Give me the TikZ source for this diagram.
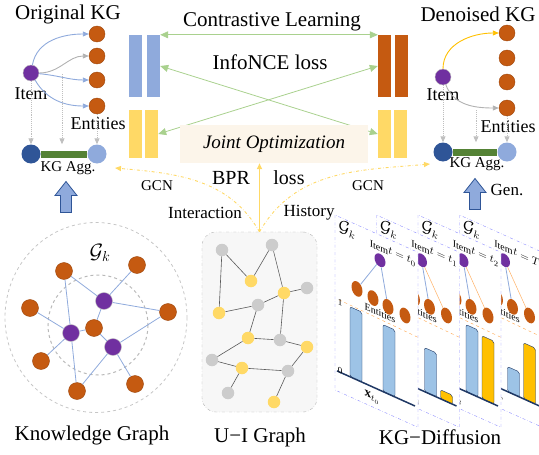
\documentclass[tikz,border=0pt]{standalone}
\usepackage{fontspec}
\setmainfont{Liberation Serif}
\usepackage{tikz}
\usepackage{xcolor}
\usetikzlibrary{arrows.meta, shapes.geometric, positioning}

\definecolor{kgorange}{HTML}{C55A11}
\definecolor{kgpurple}{HTML}{7030A0}
\definecolor{kgdark}{HTML}{2F5597}
\definecolor{kglight}{HTML}{8FAADC}
\definecolor{kggreen}{HTML}{548235}
\definecolor{kgyellow}{HTML}{FFD966}
\definecolor{clgreen}{HTML}{A9D18E}
\definecolor{gold}{HTML}{FFC000}
\definecolor{barblue}{HTML}{9DC3E6}
\definecolor{navy}{HTML}{1F3864}
\definecolor{beige}{HTML}{FCF5EA}
\newcommand{\sz}[1]{\fontsize{#1}{#1}\selectfont}
\newcommand{\blockup}[1]{\draw[upar] (#1) ++(-5.5,15.5) -- ++(0,-17) -- ++(-5.5,0) -- ++(11,-14) -- ++(11,14) -- ++(-5.5,0) -- ++(0,17) -- cycle;}

\begin{document}
\begin{tikzpicture}[x=1pt, y=-1pt, font=\sz{18}, >={Triangle[length=6pt, width=5pt]},
  ent/.style={circle, fill=kgorange, draw=kgorange!80!black, minimum size=16pt, inner sep=0pt},
  itm/.style={circle, fill=kgpurple, draw=gray!50, minimum size=16pt, inner sep=0pt},
  agg/.style={circle, minimum size=19pt, inner sep=0pt},
  vec/.style={inner sep=0pt, minimum width=13pt},
  cl/.style={clgreen, line width=0.8pt, {Triangle[length=8pt, width=7pt]}-{Triangle[length=8pt, width=7pt]}},
  hint/.style={gray!50, densely dotted, line width=0.9pt, ->},
  link/.style={line width=0.9pt, ->},
  uin/.style={circle, minimum size=12.5pt, inner sep=0pt},
  upar/.style={fill=kglight, draw=kgdark, line width=0.8pt},
  gcn/.style={kgyellow, dash dot, line width=0.9pt, ->},
  dent/.style={transform shape, ellipse, inner sep=0pt, minimum width=11pt, minimum height=15pt},
  ptxt/.style={transform shape, font=\sz{10}}]

\useasboundingbox (0,0) rectangle (539,455);
\clip (0,0) rectangle (539,455);

% original KG
\node[font=\sz{21}] (okg) at (68,14) {Original KG};
\node[itm] (i1) at (31,73) {};
\foreach \n/\y in {1/34,2/56,3/80,4/106}
  \node[ent] (e\n) at (97,\y) {};
\node (i1t) at (31,94) {Item};
\node (e1t) at (98,124) {Entities};
\node[agg, fill=kgdark] (a1) at (31,154) {};
\node[agg, fill=kglight] (b1) at (97,154) {};
\draw[kggreen, line width=7pt] (a1) -- (b1);
\node[font=\sz{15}] (agg1) at (68,168) {KG Agg.};
\coordinate (up1) at (66,197);
\blockup{up1}
\draw[link, kglight] (i1) to[out=80, in=180] (e1);
\draw[link, gray!60] (i1) to[out=0, in=180] (e2);
\draw[link, kglight] (i1) to[out=-5, in=180] (e3);
\draw[link, kglight] (i1) to[out=-60, in=180] (e4);
\coordinate (m1) at (62,74);
\draw[hint] (i1) -- (a1);
\draw[hint] (m1) -- (m1 |- a1.north);
\draw[hint] (e4) -- (b1);

% embeddings
\node[vec, fill=kglight, minimum height=62pt] (lb1) at (135.5,66) {};
\node[vec, fill=kglight, minimum height=62pt] (lb2) at (153.5,66) {};
\node[vec, fill=kgyellow, minimum height=48pt] (ly1) at (135.5,134) {};
\node[vec, fill=kgyellow, minimum height=48pt] (ly2) at (151.5,134) {};
\node[vec, fill=kgorange, minimum height=62pt] (ro1) at (384.5,66) {};
\node[vec, fill=kgorange, minimum height=62pt] (ro2) at (401.5,66) {};
\node[vec, fill=kgyellow, minimum height=48pt] (ry1) at (384.5,134) {};
\node[vec, fill=kgyellow, minimum height=48pt] (ry2) at (400,134) {};
\draw[cl] (lb2.north east) -- (ro1.north west);
\draw[cl] (lb2.east) -- (ry1.west);
\draw[cl] (ly2.east) -- (ro1.west);
\node[font=\sz{21}] (ctl) at (272,22) {Contrastive Learning};
\node[font=\sz{21}] (nce) at (270,62) {InfoNCE loss};
\node[fill=beige, minimum width=188pt, minimum height=38pt, font=\sz{19}\itshape] (joint) at (274,144) {Joint Optimization};

% denoised KG
\node[font=\sz{21}] (dkg) at (478,14) {Denoised KG};
\node[itm] (i2) at (443,77) {};
\foreach \n/\y in {1/33,2/58,3/82,4/108}
  \node[ent] (f\n) at (507,\y) {};
\node (i2t) at (443,95) {Item};
\node (e2t) at (508,127) {Entities};
\node[agg, fill=kgdark] (a2) at (443,152) {};
\node[agg, fill=kglight] (b2) at (507,152) {};
\draw[kggreen, line width=7pt] (a2) -- (b2);
\node[font=\sz{15}] (agg2) at (477,164) {KG Agg.};
\coordinate (up2) at (475,194);
\blockup{up2}
\node[font=\sz{17}] (gen) at (507,190) {Gen.};
\draw[link, gold] (i2) to[out=90, in=180] (f1);
\draw[link, gray!60] (i2) to[out=-70, in=180] (f4);
\coordinate (m2) at (476,110);
\draw[hint] (i2) -- (a2);
\draw[hint] (m2) -- (m2 |- a2.north);
\draw[hint] (f4) -- (b2);

% knowledge graph
\draw[gray!45, dashed, line width=0.8pt] (96,317.5) ellipse [x radius=91, y radius=95];
\draw[gray!55, dashed, line width=1pt] (98,325) circle [radius=50];
\node[font=\sz{21}] (gk) at (100,253) {$\mathcal{G}_k$};
\foreach \n/\x/\y in {1/64/271, 2/137/265, 3/30/308, 4/168/312, 5/94/328, 6/41/361, 7/77/391, 8/135/384}
  \node[ent, minimum size=17pt] (o\n) at (\x,\y) {};
\foreach \n/\x/\y in {1/104/301, 2/71/333, 3/113/347}
  \node[itm, minimum size=17pt] (p\n) at (\x,\y) {};
\foreach \a/\b in {o1/p2, p2/o7, o1/p1, o2/p1, p1/o4, p1/o5, o3/p2, p2/o6, p2/o5, o5/p3, p3/o4, p3/o7, p3/o8}
  \draw[kglight, line width=0.8pt] (\a) -- (\b);
\node[font=\sz{21}] (kgt) at (92,435) {Knowledge Graph};

% U-I graph
\node[draw=gray!60, dash dot, fill=gray!6, rounded corners=14pt, minimum width=115pt, minimum height=180pt] (uibox) at (259.5,322) {};
\foreach \n/\x/\y in {1/222/250, 2/272/245, 3/307/288, 4/258/305, 5/280/340, 6/212/360, 7/288/371, 8/228/393}
  \node[uin, fill=gray!40] (g\n) at (\x,\y) {};
\foreach \n/\x/\y in {1/251/281, 2/284/293, 3/219/313, 4/248/338, 5/307/347, 6/242/368, 7/274/402}
  \node[uin, fill=kgyellow] (y\n) at (\x,\y) {};
\foreach \a/\b in {g1/y1, y1/g2, g2/y2, y2/g3, g1/y3, y3/g4, g4/y2, g4/y4, y2/g5, y4/g5, g5/y5, y4/g6, g6/y6, y6/g7, y5/g7, y6/g8, g7/y7}
  \draw[gray!70!black, line width=0.6pt] (\a) -- (\b);
\node[font=\sz{21}] (uit) at (260,437) {U−I Graph};

% interaction / history
\coordinate (gcnl) at (115,168);
\coordinate (gcnr) at (430,164);
\draw[gcn] (uibox.north) to[out=120, in=-5] (gcnl);
\draw[gcn] (uibox.north) to[out=60, in=185] (gcnr);
\draw[kgyellow, line width=1.6pt, ->] (uibox.north) -- (uibox.north |- joint.south);
\node[font=\sz{20}] (bpr) at (231,178) {BPR};
\node[font=\sz{20}] (bprl) at (289,178) {loss};
\node[font=\sz{15}] (gcn1) at (157,186) {GCN};
\node[font=\sz{15}] (gcn2) at (368,186) {GCN};
\node[font=\sz{17}] (inter) at (205,213) {Interaction};
\node[font=\sz{17}] (hist) at (309,213) {History};

% KG diffusion
\foreach \i/\tl/\hb/\hy in {3/T/130/99, 2/t_2/88/92, 1/t_1/111/146, 0/t_0/88/0}{
  \begin{scope}[shift={(335+41.5*\i,215)}, yslant=-0.45]
    \draw[blue!45, dash dot, fill=white] (0,0) rectangle (83,175);
    \node[transform shape, font=\sz{16}] at (12,9) {$\mathcal{G}_k$};
    \node[ptxt] at (44,13) {Item};
    \node[ptxt, font=\sz{11}] at (67,12) {$t=\tl$};
    \draw[orange!70, dashed] (4,83) -- (83,85);
    \foreach \n/\u/\v in {1/22/64, 2/38/66, 3/53/68, 4/70/69}
      \node[dent, fill=kgorange] (d\n) at (\u,\v) {};
    \node[dent, fill=kgpurple, minimum height=13pt] (dit) at (45,25) {};
    \ifnum\i=0
      \draw[kglight, line width=0.8pt] (dit) -- (d1);
      \draw[kglight, line width=0.8pt] (dit) -- (d3);
      \draw[fill=barblue, draw=navy, rounded corners=2pt] (15,155) rectangle (27,85);
    \else
      \draw[kglight, line width=0.8pt] (dit) -- (d3);
      \draw[orange!60, line width=0.5pt] (dit) -- (d4);
      \draw[fill=gold, draw=navy, rounded corners=2pt] (64,155) rectangle (76,\hy);
    \fi
    \node[ptxt] at (45,78) {Entities};
    \draw[fill=barblue, draw=navy, rounded corners=2pt] (48,155) rectangle (60,\hb);
    \draw[navy, line width=1.5pt] (2,155) -- (80,155);
    \node[ptxt, font=\sz{9}] at (5,85) {1};
    \node[ptxt, font=\sz{9}] at (5,153) {0};
    \node[transform shape, font=\sz{13}] at (37,166) {$\mathbf{x}_{\tl}$};
  \end{scope}
}
\node[font=\sz{21}] (dif) at (440,437) {KG−Diffusion};

\end{tikzpicture}
\end{document}
